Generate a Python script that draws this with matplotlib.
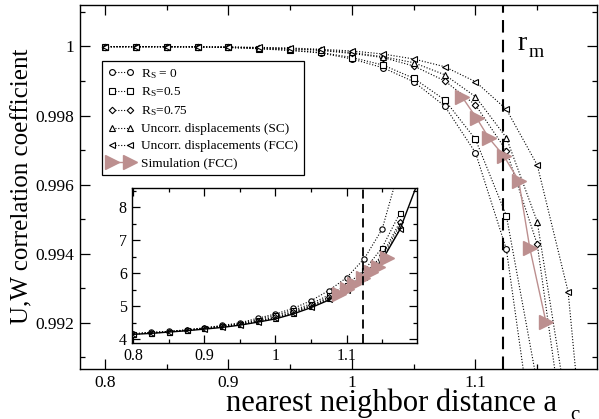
import matplotlib
matplotlib.use("Agg")
import matplotlib.pyplot as plt
from matplotlib.ticker import MultipleLocator, FuncFormatter

plt.rcParams['font.family'] = ['Liberation Serif', 'DejaVu Serif']
plt.rcParams['mathtext.fontset'] = 'custom'
plt.rcParams['mathtext.rm'] = 'Liberation Serif'
plt.rcParams['mathtext.it'] = 'Liberation Serif:italic'

# ---------------- data: main panel (correlation coefficient) ----------------
x_main = [0.8, 0.825, 0.85, 0.875, 0.9, 0.925, 0.95, 0.975, 1.0, 1.025,
          1.05, 1.075, 1.1, 1.125, 1.15, 1.175, 1.2]
r0_main = [0.999994, 0.999994, 0.999991, 0.999986, 0.999971, 0.999933, 0.999884,
           0.999812, 0.999638, 0.999386, 0.998980, 0.998277, 0.996924, 0.994126,
           0.987762]
r05_main = [0.999994, 0.999994, 0.999991, 0.999986, 0.999971, 0.999939, 0.999893,
            0.999826, 0.999681, 0.999464, 0.999079, 0.998456, 0.997312, 0.995099,
            0.990233]
r075_main = [0.999994, 0.999994, 0.999994, 0.999988, 0.999980, 0.999957, 0.999928,
             0.999884, 0.999797, 0.999681, 0.999435, 0.999007, 0.998306, 0.996982,
             0.994271, 0.987878]
sc_main = [0.999994, 0.999994, 0.999994, 0.999991, 0.999983, 0.999965, 0.999939,
           0.999899, 0.999826, 0.999705, 0.999531, 0.999183, 0.998546, 0.997358,
           0.994925, 0.989306]
fcc_main = [0.999994, 0.999994, 0.999994, 0.999991, 0.999986, 0.999974, 0.999957,
            0.999919, 0.999870, 0.999783, 0.999638, 0.999415, 0.998980, 0.998181,
            0.996568, 0.992898, 0.983475]
x_sim = [1.089, 1.101, 1.111, 1.123, 1.135, 1.144, 1.157]
sim_main = [0.998546, 0.997920, 0.997341, 0.996828, 0.996113, 0.994155, 0.992029]

# ---------------- data: inset ----------------
x_in = [0.8, 0.825, 0.85, 0.875, 0.9, 0.925, 0.95, 0.975, 1.0, 1.025,
        1.05, 1.075, 1.1, 1.125, 1.15, 1.175]
r0_in = [4.17, 4.21, 4.24, 4.29, 4.35, 4.42, 4.50, 4.64, 4.77, 4.94, 5.17, 5.48,
         5.87, 6.45, 7.34, 9.25]
r05_in = [4.17, 4.20, 4.23, 4.28, 4.34, 4.41, 4.47, 4.60, 4.73, 4.88, 5.08, 5.34,
          5.65, 6.10, 6.78, 7.83]
r075_in = [4.16, 4.20, 4.23, 4.28, 4.33, 4.40, 4.46, 4.57, 4.68, 4.84, 5.03, 5.28,
           5.56, 5.97, 6.55, 7.56]
sc_in = [4.16, 4.20, 4.23, 4.28, 4.33, 4.39, 4.45, 4.55, 4.66, 4.81, 5.01, 5.25,
         5.53, 5.92, 6.50, 7.46]
fcc_in = [4.16, 4.19, 4.22, 4.27, 4.32, 4.38, 4.44, 4.53, 4.64, 4.79, 4.99, 5.21,
          5.50, 5.88, 6.44, 7.34]
x_theory = [0.8, 0.825, 0.85, 0.875, 0.9, 0.925, 0.95, 0.975, 1.0, 1.025, 1.05,
            1.075, 1.1, 1.125, 1.15, 1.175, 1.2]
theory_in = [4.15, 4.18, 4.22, 4.26, 4.31, 4.36, 4.43, 4.52, 4.62, 4.77, 4.96,
             5.19, 5.48, 5.86, 6.40, 7.33, 8.75]
sim_in = [5.37, 5.52, 5.68, 5.86, 6.04, 6.19, 6.46]

r_m = 2 ** (1 / 6)

labels = [r'R$_\mathrm{S}$ = 0', r'R$_\mathrm{S}$=0.5', r'R$_\mathrm{S}$=0.75',
          'Uncorr. displacements (SC)', 'Uncorr. displacements (FCC)',
          'Simulation (FCC)']
sim_color = '#bc8f8f'

fig = plt.figure(figsize=(5.99, 4.19), dpi=100)
ax = fig.add_axes([0.1336, 0.1193, 0.9967 - 0.1336, 0.9881 - 0.1193])

dot = (0, (1, 1.6))
series = [(r0_main, 'o', 4.2), (r05_main, 's', 3.8), (r075_main, 'D', 3.3),
          (sc_main, '^', 4.2), (fcc_main, '<', 4.2)]
handles = []
for vals, mk, ms in series:
    h, = ax.plot(x_main[:len(vals)], vals, color='black', lw=0.8, ls=dot,
                 marker=mk, ms=ms, mfc='white', mec='black', mew=0.8)
    handles.append(h)
h, = ax.plot(x_sim, sim_main, color=sim_color, lw=1.0, ls='-', marker='>',
             ms=10, mfc=sim_color, mec=sim_color)
handles.append(h)
ax.axvline(r_m, color='black', lw=1.5, ls=(0, (6, 3.5)))
ax.text(1.1344, 0.999899, 'r', fontsize=20, ha='left', va='baseline')
ax.text(1.1430, 0.999700, 'm', fontsize=14, ha='left', va='baseline')

ax.set_xlim(0.7798, 1.1984)
ax.set_ylim(0.990659, 1.001202)
ax.xaxis.set_major_locator(MultipleLocator(0.1))
ax.xaxis.set_minor_locator(MultipleLocator(0.05))
ax.yaxis.set_major_locator(MultipleLocator(0.002))
ax.yaxis.set_minor_locator(MultipleLocator(0.001))
ax.xaxis.set_major_formatter(FuncFormatter(lambda v, p: f'{round(v, 3):g}'))
ax.yaxis.set_major_formatter(FuncFormatter(lambda v, p: f'{round(v, 4):g}'))
ax.tick_params(which='both', direction='in', top=True, right=True,
               labelsize=12.5, pad=4.5, width=0.9)
ax.tick_params(which='major', length=7)
ax.tick_params(which='minor', length=3.5)
for s in ax.spines.values():
    s.set_linewidth(1.0)

leg = ax.legend(handles, labels, loc='upper left', bbox_to_anchor=(0.042, 0.846),
                borderaxespad=0, fancybox=False, edgecolor='black', framealpha=1,
                fontsize=9.6, numpoints=2, handlelength=2.0, handletextpad=0.5,
                labelspacing=0.36, borderpad=0.45)
leg.get_frame().set_linewidth(0.9)

fig.text(226 / 599, 1 - 411 / 419, 'nearest neighbor distance a', fontsize=22,
         ha='left', va='baseline')
fig.text(570 / 599, 1 - 420 / 419, 'c', fontsize=15, ha='left', va='baseline')
fig.text(22 / 599, 0.555, 'U,W correlation coefficient', fontsize=18,
         rotation=90, ha='center', va='center')

# ---------------- inset ----------------
ins = fig.add_axes([0.2199, 0.1807, 0.6957 - 0.2199, 0.5506 - 0.1807])
series_in = [(r0_in, 'o', 3.8), (r05_in, 's', 3.6), (r075_in, 'D', 3.0),
             (sc_in, '^', 3.6), (fcc_in, '<', 3.6)]
for vals, mk, ms in series_in:
    ins.plot(x_in[:len(vals)], vals, color='black', lw=0.8, ls=dot, marker=mk,
             ms=ms, mfc='white', mec='black', mew=0.8)
ins.plot(x_theory, theory_in, color='black', lw=1.0, ls='-')
ins.plot(x_sim, sim_in, color=sim_color, lw=1.0, ls='-', marker='>', ms=10,
         mfc=sim_color, mec=sim_color)
ins.axvline(r_m, color='black', lw=1.3, ls=(0, (5, 3)))
ins.set_xlim(0.798, 1.1986)
ins.set_ylim(3.88, 8.58)
ins.xaxis.set_major_locator(MultipleLocator(0.1))
ins.xaxis.set_minor_locator(MultipleLocator(0.05))
ins.yaxis.set_major_locator(MultipleLocator(1))
ins.yaxis.set_minor_locator(MultipleLocator(0.5))
ins.xaxis.set_major_formatter(FuncFormatter(lambda v, p: f'{round(v, 3):g}'))
ins.yaxis.set_major_formatter(FuncFormatter(lambda v, p: f'{round(v, 3):g}'))
ins.tick_params(which='both', direction='in', top=True, right=True,
                labelsize=11.5, pad=3.5, width=0.9)
ins.tick_params(which='major', length=5.5)
ins.tick_params(which='minor', length=3)
for s in ins.spines.values():
    s.set_linewidth(1.0)

fig.savefig('out.png', dpi=100)
